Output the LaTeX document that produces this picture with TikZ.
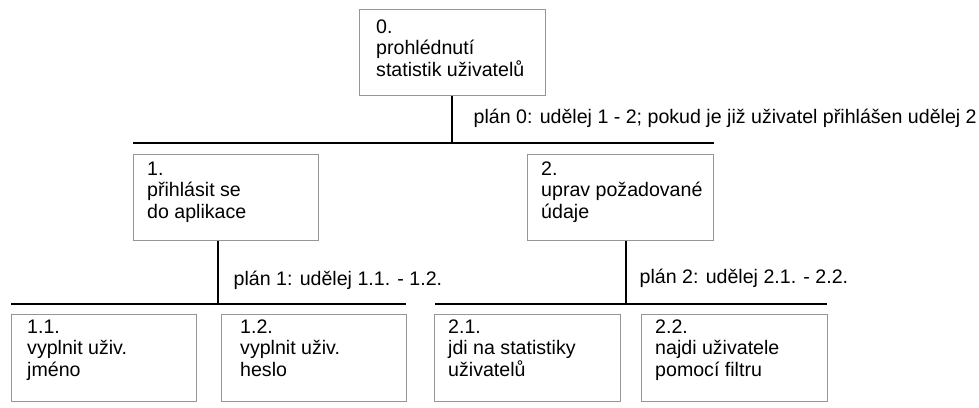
\documentclass[tikz,border=0pt]{standalone}
\usepackage{fontspec}
\setmainfont{Liberation Sans}
\usetikzlibrary{calc}
\definecolor{boxgray}{RGB}{150,150,150}
\begin{document}
\begin{tikzpicture}[x=1pt,y=-1pt,
  box/.style={draw=boxgray, line width=1pt, rectangle, inner sep=0pt, anchor=north west},
  txt/.style={anchor=base west, align=left, inner sep=0pt, font=\fontsize{19.6}{21.5}\selectfont},
  bar/.style={line width=2pt, black}]
\useasboundingbox (0,0) rectangle (979,407);
% boxes
\node[box, minimum width=186pt, minimum height=86pt] (n0) at (359,9) {};
\node[box, minimum width=185pt, minimum height=86pt] (n1) at (133,154) {};
\node[box, minimum width=186pt, minimum height=86pt] (n2) at (527,154) {};
\node[box, minimum width=185pt, minimum height=87pt] (n11) at (11,314) {};
\node[box, minimum width=185pt, minimum height=87pt] (n12) at (221,314) {};
\node[box, minimum width=186pt, minimum height=87pt] (n21) at (434,314) {};
\node[box, minimum width=186pt, minimum height=87pt] (n22) at (641,314) {};
% texts (base anchor = baseline of the last line)
\node[txt] (t0) at ($(n0.north west)+(17,24+43)$) {0.\\prohlédnutí\\statistik uživatelů};
\node[txt] (t1) at ($(n1.north west)+(14,21+43)$) {1.\\přihlásit se\\do aplikace};
\node[txt] (t2) at ($(n2.north west)+(14,21+43)$) {2.\\uprav požadované\\údaje};
\node[txt] (t11) at ($(n11.north west)+(16,19+43)$) {1.1.\\vyplnit uživ.\\jméno};
\node[txt] (t12) at ($(n12.north west)+(19,19+43)$) {1.2.\\vyplnit uživ.\\heslo};
\node[txt] (t21) at ($(n21.north west)+(14,19+43)$) {2.1.\\jdi na statistiky\\uživatelů};
\node[txt] (t22) at ($(n22.north west)+(14,19+43)$) {2.2.\\najdi uživatele\\pomocí filtru};
% bars
\coordinate (b0L) at (133,143); \coordinate (b0R) at (714,143);
\coordinate (b1L) at (11,304);  \coordinate (b1R) at (406,304);
\coordinate (b2L) at (435,304); \coordinate (b2R) at (827,304);
\draw[bar] (b0L) -- (b0R);
\draw[bar] (b1L) -- (b1R);
\draw[bar] (b2L) -- (b2R);
% stems
\coordinate (s0) at ($(n0.south)+(-1,0)$);
\coordinate (s1) at ($(n1.south)+(-8.5,0)$);
\coordinate (s2) at ($(n2.south)+(5,0)$);
\draw[bar] (s0) -- (s0 |- b0L);
\draw[bar] (s1) -- (s1 |- b1L);
\draw[bar] (s2) -- (s2 |- b2L);
% plans
\node[txt] (p0) at ($(s0)+(22,27)$) {plán 0: udělej 1 - 2; pokud je již uživatel přihlášen udělej 2};
\node[txt] (p1) at ($(s1)+(16,44)$) {plán 1: udělej 1.1. - 1.2.};
\node[txt] (p2) at ($(s2)+(14,42)$) {plán 2: udělej 2.1. - 2.2.};
\end{tikzpicture}
\end{document}
